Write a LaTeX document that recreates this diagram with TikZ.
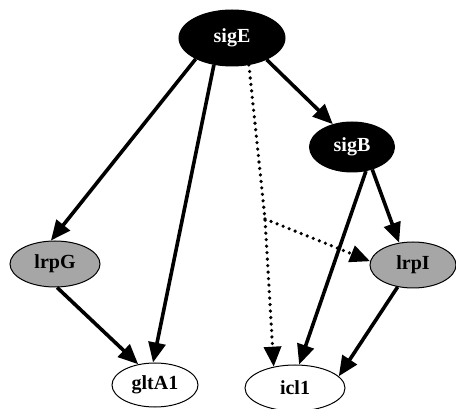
\documentclass[tikz,border=0pt]{standalone}
\usepackage{fontspec}
\setmainfont{Liberation Serif}
\usetikzlibrary{arrows.meta,shapes.geometric}

\begin{document}
\begin{tikzpicture}[x=1pt, y=-1pt,
  gene/.style={ellipse, draw=black, line width=1pt, inner sep=0pt,
               font=\fontsize{20}{22}\selectfont\bfseries},
  sig/.style={gene, fill=black, text=white},
  lrp/.style={gene, fill=black!35},
  arr/.style={-{Triangle[length=20pt, width=17pt]}, line width=3.6pt},
  darr/.style={arr, line cap=round, dash pattern=on 0pt off 6.5pt}]
\useasboundingbox (0,0) rectangle (456,409);
\node[sig, minimum width=106pt, minimum height=56pt] (sigE) at (232,38) {sigE};
\node[sig, minimum width=85pt, minimum height=50pt] (sigB) at (352,147) {sigB};
\node[lrp, minimum width=90pt, minimum height=46pt] (lrpG) at (55,264) {lrpG};
\node[lrp, minimum width=86pt, minimum height=46pt] (lrpI) at (413,265) {lrpI};
\node[gene, minimum width=86pt, minimum height=44pt] (gltA1) at (155,385) {gltA1};
\node[gene, minimum width=100pt, minimum height=46pt] (icl1) at (295,388) {icl1};
\coordinate (jn) at (265,219);
% regulation edges
\draw[arr] (sigE.210) -- (lrpG.100);
\draw[arr] (sigE.236) -- (gltA1.95);
\draw[arr] (sigE.328) -- (sigB.130);
\draw[arr] (sigB.312) -- (lrpI.122);
\draw[arr] (sigB.300) -- (icl1.80);
\draw[arr] (lrpG.275) -- (gltA1.129);
\draw[arr] (lrpI.235) -- (icl1.15);
% indirect links
\draw[darr] (sigE.302) -- (jn) -- (icl1.135);
\draw[darr] (jn) -- (lrpI.175);
\end{tikzpicture}
\end{document}
